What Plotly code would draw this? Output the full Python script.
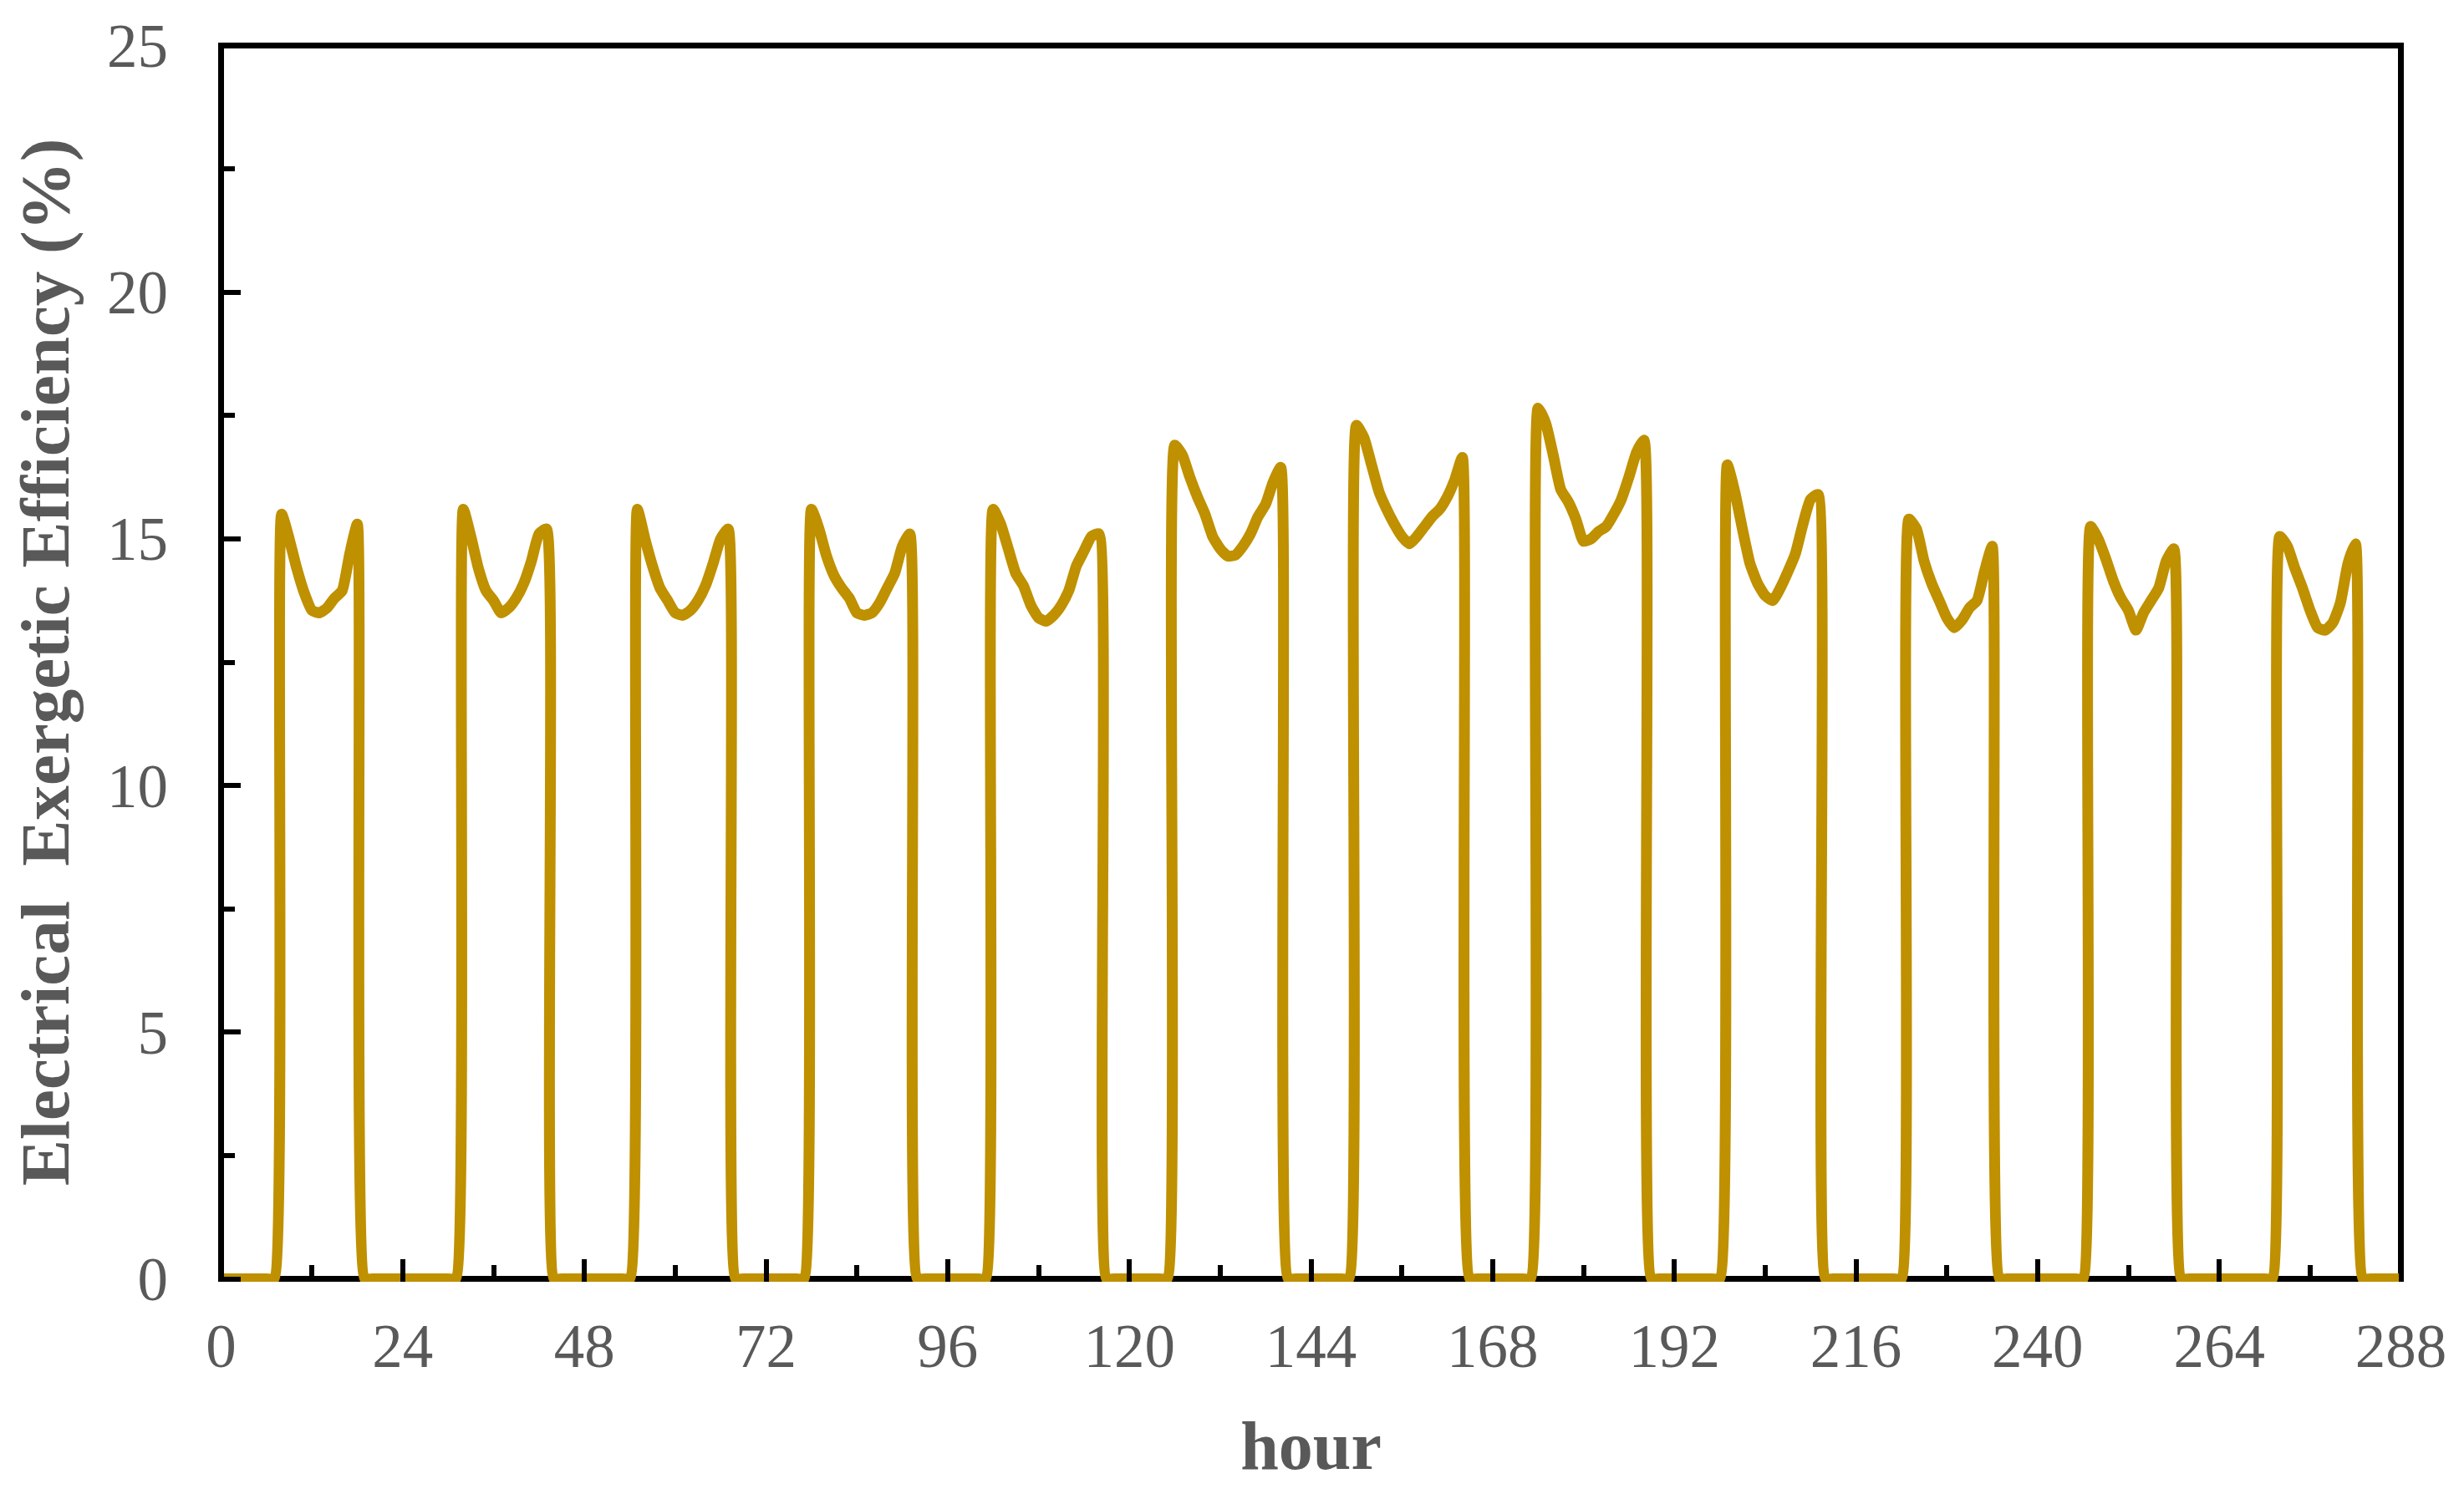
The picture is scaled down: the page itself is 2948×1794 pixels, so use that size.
import plotly.graph_objects as go

# hourly electrical exergetic efficiency (%), one representative day per month
# first daylight hour of each day on the 0-288 h axis
day_start = [8, 32, 55, 78, 102, 126, 150, 174, 199, 223, 247, 272]

day01 = [15.5, 15.0, 14.4, 13.9, 13.55, 13.5, 13.6, 13.8, 13.95, 14.7, 15.3]
day02 = [15.6, 15.05, 14.4, 13.95, 13.75, 13.5, 13.6, 13.8, 14.1, 14.55, 15.1, 15.2]
day03 = [15.6, 15.0, 14.45, 14.0, 13.75, 13.5, 13.45, 13.55, 13.75, 14.05, 14.5, 15.0, 15.2]
day04 = [15.6, 15.2, 14.65, 14.25, 14.0, 13.8, 13.5, 13.45, 13.5, 13.7, 14.0, 14.3, 14.85, 15.1]
day05 = [15.6, 15.3, 14.8, 14.3, 14.05, 13.65, 13.4, 13.33, 13.45, 13.65, 13.95, 14.45, 14.75,
         15.05, 15.1]
day06 = [16.9, 16.7, 16.25, 15.85, 15.5, 15.05, 14.8, 14.65, 14.67, 14.85, 15.1, 15.45, 15.7,
         16.15, 16.45]
day07 = [17.3, 17.05, 16.5, 15.95, 15.6, 15.3, 15.05, 14.9, 15.05, 15.25, 15.45, 15.6, 15.85,
         16.2, 16.65]
day08 = [17.65, 17.35, 16.7, 16.0, 15.75, 15.4, 14.95, 15.0, 15.15, 15.25, 15.5, 15.8, 16.25,
         16.75, 17.0]
day09 = [16.5, 15.95, 15.2, 14.5, 14.1, 13.85, 13.75, 14.0, 14.33, 14.7, 15.3, 15.8, 15.9]
day10 = [15.4, 15.2, 14.55, 14.1, 13.75, 13.4, 13.2, 13.35, 13.6, 13.75, 14.35, 14.85]
day11 = [15.25, 15.0, 14.6, 14.15, 13.8, 13.55, 13.15, 13.5, 13.75, 14.0, 14.55, 14.8]
day12 = [15.05, 14.85, 14.4, 14.0, 13.55, 13.2, 13.15, 13.3, 13.7, 14.5, 14.9]

days = [day01, day02, day03, day04, day05, day06,
        day07, day08, day09, day10, day11, day12]

X_MAX = 288
Y_MAX = 25

hours = list(range(0, X_MAX + 1))
efficiency = [0.0] * len(hours)
for start, vals in zip(day_start, days):
    for i, v in enumerate(vals):
        efficiency[start + i] = v

GREY = "#595959"
FONT = "Times New Roman, Liberation Serif, serif"

fig = go.Figure()
fig.add_trace(
    go.Scatter(
        x=hours,
        y=efficiency,
        mode="lines",
        line=dict(color="#BF9000", width=13, shape="spline", smoothing=0.5),
        showlegend=False,
        hoverinfo="skip",
    )
)

# frame box centred on the axis limits (edge ticks hide inside it, as in Excel);
# the axis ranges are padded by half the frame width so it is not clipped
fig.add_shape(
    type="rect", xref="x", yref="y",
    x0=0, x1=X_MAX, y0=0, y1=Y_MAX,
    line=dict(color="black", width=7),
    layer="below",
)

fig.update_xaxes(
    range=[-0.386, X_MAX + 0.386],
    tickmode="linear",
    tick0=0,
    dtick=24,
    ticks="inside",
    ticklen=27,
    tickwidth=6,
    tickcolor="black",
    minor=dict(tick0=0, dtick=12, ticks="inside", ticklen=20, tickwidth=6,
               tickcolor="black", showgrid=False),
    showline=False,
    showgrid=False,
    zeroline=False,
    automargin=False,
    tickfont=dict(family=FONT, size=73, color=GREY),
    ticklabelstandoff=28,
    title=dict(text="hour", font=dict(family=FONT, size=82, color=GREY, weight="bold"),
               standoff=49),
)
fig.update_yaxes(
    range=[-0.059, Y_MAX + 0.059],
    tickmode="linear",
    tick0=0,
    dtick=5,
    ticks="inside",
    ticklen=27,
    tickwidth=6,
    tickcolor="black",
    minor=dict(tick0=0, dtick=2.5, ticks="inside", ticklen=20, tickwidth=6,
               tickcolor="black", showgrid=False),
    showline=False,
    showgrid=False,
    zeroline=False,
    automargin=False,
    tickfont=dict(family=FONT, size=73, color=GREY),
    ticklabelstandoff=59,
    title=dict(text="Electrical\u00a0 Exergetic Efficiency (%)",
               font=dict(family=FONT, size=83, color=GREY, weight="bold"),
               standoff=23),
)

# the page body adds an 8 px offset, so the figure is 16 px smaller than the window
fig.update_layout(
    width=2932,
    height=1778,
    margin=dict(l=252.5, r=63.8, t=42.8, b=251.8),
    paper_bgcolor="white",
    plot_bgcolor="white",
)

fig.write_html("out.html")
